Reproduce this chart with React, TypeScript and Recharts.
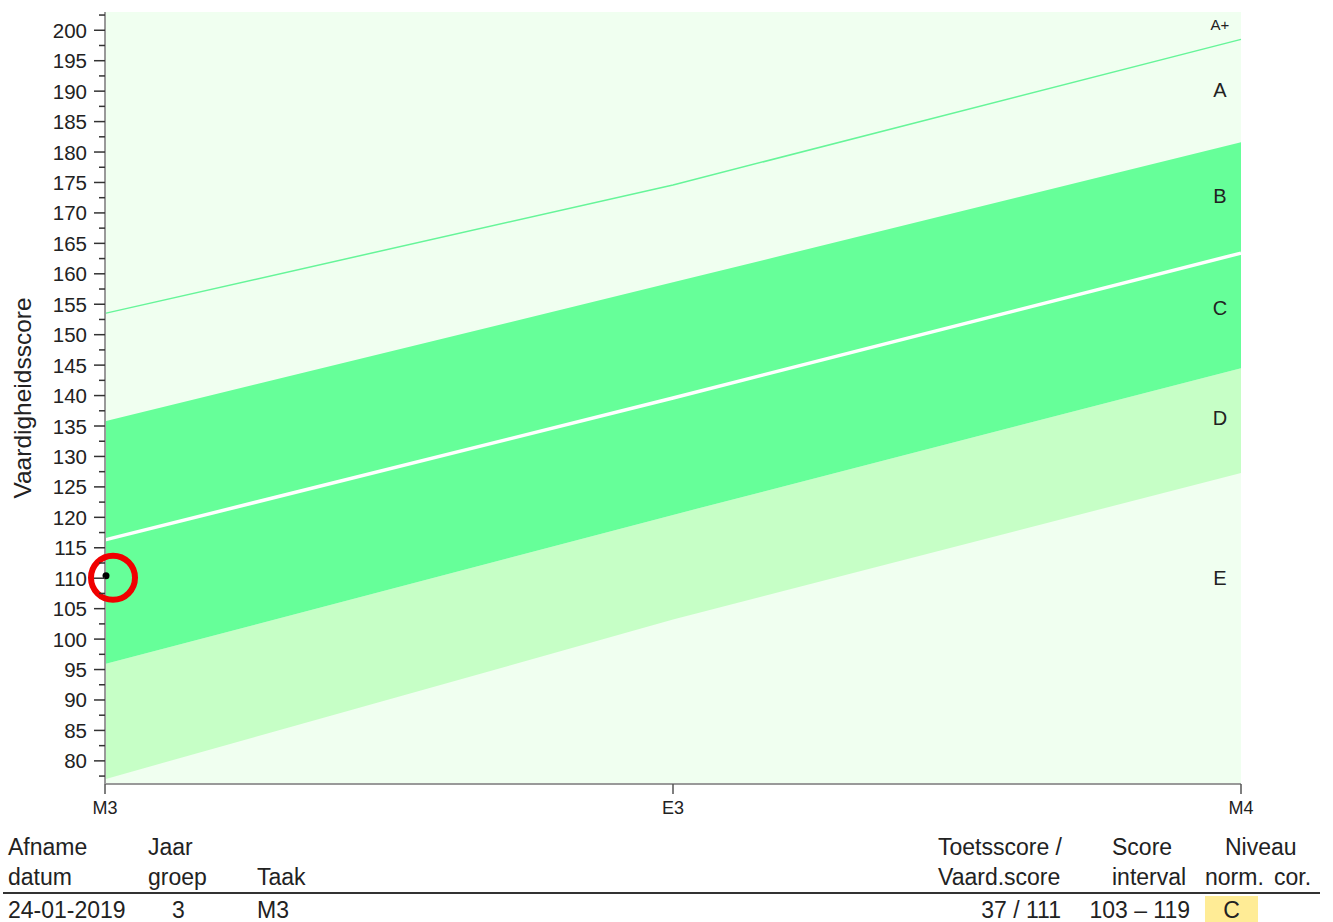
import {
  Area,
  CartesianGrid,
  ComposedChart,
  Line,
  Scatter,
  XAxis,
  YAxis,
} from 'recharts'

// meetmomenten op de x-as
const moments = ['M3', 'E3', 'M4']

// grenzen van de niveaus per meetmoment (vaardigheidsscore)
const boundaryEtoD = [77.0, 103.2, 127.3]
const boundaryDtoC = [95.9, 120.4, 144.5]
const medianLine = [116.3, 139.6, 163.4]
const boundaryBtoA = [135.8, 158.6, 181.6]
const boundaryAtoAplus = [153.5, 174.6, 198.5]

// niveau-letters rechts in de grafiek
const levelNames = ['A+', 'A', 'B', 'C', 'D', 'E']
const levelLabelScores = [200.9, 190.2, 172.8, 154.4, 136.3, 110]

// afname van de leerling
const studentMoment = 0
const studentScore = 110.4

// y-as ticks (hoofdtick elke 5, tussentick elke 2,5)
const yTicks = Array.from({ length: 51 }, (_, i) => 77.5 + i * 2.5)

// tabel onder de grafiek
const tableHeaders = [
  { lines: ['Afname', 'datum'], left: 8 },
  { lines: ['Jaar', 'groep'], left: 148 },
  { lines: ['', 'Taak'], left: 257 },
  { lines: ['Toetsscore /', 'Vaard.score'], left: 938 },
  { lines: ['Score', 'interval'], left: 1112 },
  { lines: ['Niveau', 'norm.'], left: 1205 },
  { lines: ['', 'cor.'], left: 1274 },
]
const tableRow = ['24-01-2019', '3', 'M3', '37 / 111', '103 \u2013 119', 'C']

const chartData = moments.map((m, i) => ({
  x: i,
  light: [boundaryEtoD[i], boundaryDtoC[i]],
  dark: [boundaryDtoC[i], boundaryBtoA[i]],
  median: medianLine[i],
  top: boundaryAtoAplus[i],
}))

const levelData = levelNames.map((name, i) => ({
  x: moments.length - 1,
  y: levelLabelScores[i],
  name,
}))

const studentData = [{ x: studentMoment, y: studentScore }]

const FONT = '"Liberation Sans", Arial, sans-serif'
const TABLE_FONT = 23

function YTick(props: any) {
  const { x, y, payload } = props
  const v = payload.value as number
  const major = Math.abs(v % 5) < 0.01
  return (
    <g>
      <line
        x1={x - (major ? 11 : 6)}
        x2={x}
        y1={y}
        y2={y}
        stroke='#333'
        strokeWidth={1.5}
      />
      {major && (
        <text
          x={x - 18}
          y={y}
          textAnchor='end'
          dominantBaseline='central'
          fontSize={20.5}
          fill='#222'
          fontFamily={FONT}
        >
          {v}
        </text>
      )}
    </g>
  )
}

function XTick(props: any) {
  const { x, y, payload } = props
  return (
    <g>
      <line x1={x} x2={x} y1={y} y2={y + 10} stroke='#555' strokeWidth={1.5} />
      <text
        x={x}
        y={y + 24}
        textAnchor='middle'
        dominantBaseline='central'
        fontSize={18}
        fill='#222'
        fontFamily={FONT}
      >
        {moments[payload.value]}
      </text>
    </g>
  )
}

function LevelLabel(props: any) {
  const { cx, cy, payload } = props
  return (
    <text
      x={cx - 21}
      y={cy}
      textAnchor='middle'
      dominantBaseline='central'
      fontSize={payload.name === 'A+' ? 15 : 20}
      fill='#222'
      fontFamily={FONT}
    >
      {payload.name}
    </text>
  )
}

function StudentMark(props: any) {
  const { cx, cy } = props
  return (
    <g>
      <circle cx={cx + 1} cy={cy} r={3.5} fill='#000' />
      <circle
        cx={cx + 8}
        cy={cy + 2}
        r={22}
        fill='none'
        stroke='#F00000'
        strokeWidth={6}
      />
    </g>
  )
}

export default function App() {
  return (
    <div
      style={{
        position: 'absolute',
        top: 0,
        left: 0,
        width: 1333,
        height: 922,
        background: '#fff',
        fontFamily: FONT,
        color: '#222',
        overflow: 'hidden',
      }}
    >
      <ComposedChart
        width={1333}
        height={830}
        data={chartData}
        margin={{ top: 12, right: 92, bottom: 0, left: 0 }}
      >
        <CartesianGrid
          fill='#F0FFF0'
          horizontal={false}
          vertical={false}
          stroke='none'
        />
        <XAxis
          dataKey='x'
          type='number'
          domain={[0, moments.length - 1]}
          ticks={moments.map((_, i) => i)}
          height={46}
          tickSize={0}
          tickMargin={0}
          tick={<XTick />}
          axisLine={{ stroke: '#999', strokeWidth: 2 }}
          tickLine={false}
        />
        <YAxis
          type='number'
          domain={[76.2, 203]}
          ticks={yTicks}
          interval={0}
          allowDataOverflow
          width={105}
          tickSize={0}
          tickMargin={0}
          tick={<YTick />}
          tickLine={false}
          axisLine={{ stroke: '#999', strokeWidth: 2 }}
          label={{
            value: 'Vaardigheidsscore',
            angle: -90,
            position: 'insideLeft',
            offset: 22,
            style: {
              textAnchor: 'middle',
              fontSize: 24.5,
              fill: '#222',
              fontFamily: FONT,
            },
          }}
        />
        <Area
          dataKey='light'
          type='linear'
          fill='#C6FFC6'
          fillOpacity={1}
          stroke='none'
          dot={false}
          activeDot={false}
          isAnimationActive={false}
        />
        <Area
          dataKey='dark'
          type='linear'
          fill='#66FF99'
          fillOpacity={1}
          stroke='none'
          dot={false}
          activeDot={false}
          isAnimationActive={false}
        />
        <Line
          dataKey='top'
          type='linear'
          stroke='#66F599'
          strokeWidth={1.5}
          dot={false}
          activeDot={false}
          isAnimationActive={false}
        />
        <Line
          dataKey='median'
          type='linear'
          stroke='#FFFFFF'
          strokeWidth={3.5}
          dot={false}
          activeDot={false}
          isAnimationActive={false}
        />
        <Scatter
          data={levelData}
          dataKey='y'
          shape={<LevelLabel />}
          isAnimationActive={false}
        />
        <Scatter
          data={studentData}
          dataKey='y'
          shape={<StudentMark />}
          isAnimationActive={false}
        />
      </ComposedChart>

      {tableHeaders.map((h) =>
        h.lines.map((line, j) => (
          <div
            key={h.left + '-' + j}
            style={{
              position: 'absolute',
              left: h.left + (line === 'Niveau' ? 20 : 0),
              top: 835 + j * 30,
              fontSize: TABLE_FONT,
              lineHeight: '24px',
              whiteSpace: 'nowrap',
            }}
          >
            {line}
          </div>
        )),
      )}
      <div
        style={{
          position: 'absolute',
          left: 3,
          top: 892,
          width: 1317,
          height: 2,
          background: '#333',
        }}
      />
      <div
        style={{
          position: 'absolute',
          left: 1205,
          top: 896,
          width: 53,
          height: 26,
          background: '#FFEC96',
        }}
      />
      {[
        { text: tableRow[0], left: 8 },
        { text: tableRow[1], left: 172 },
        { text: tableRow[2], left: 257 },
      ].map((c) => (
        <div
          key={c.text}
          style={{
            position: 'absolute',
            left: c.left,
            top: 898,
            fontSize: TABLE_FONT,
            lineHeight: '24px',
            whiteSpace: 'nowrap',
          }}
        >
          {c.text}
        </div>
      ))}
      {[
        { text: tableRow[3], right: 1333 - 1061 },
        { text: tableRow[4], right: 1333 - 1190 },
      ].map((c) => (
        <div
          key={c.text}
          style={{
            position: 'absolute',
            right: c.right,
            top: 898,
            fontSize: TABLE_FONT,
            lineHeight: '24px',
            whiteSpace: 'nowrap',
          }}
        >
          {c.text}
        </div>
      ))}
      <div
        style={{
          position: 'absolute',
          left: 1205,
          width: 53,
          top: 898,
          textAlign: 'center',
          fontSize: TABLE_FONT,
          lineHeight: '24px',
        }}
      >
        {tableRow[5]}
      </div>
    </div>
  )
}
